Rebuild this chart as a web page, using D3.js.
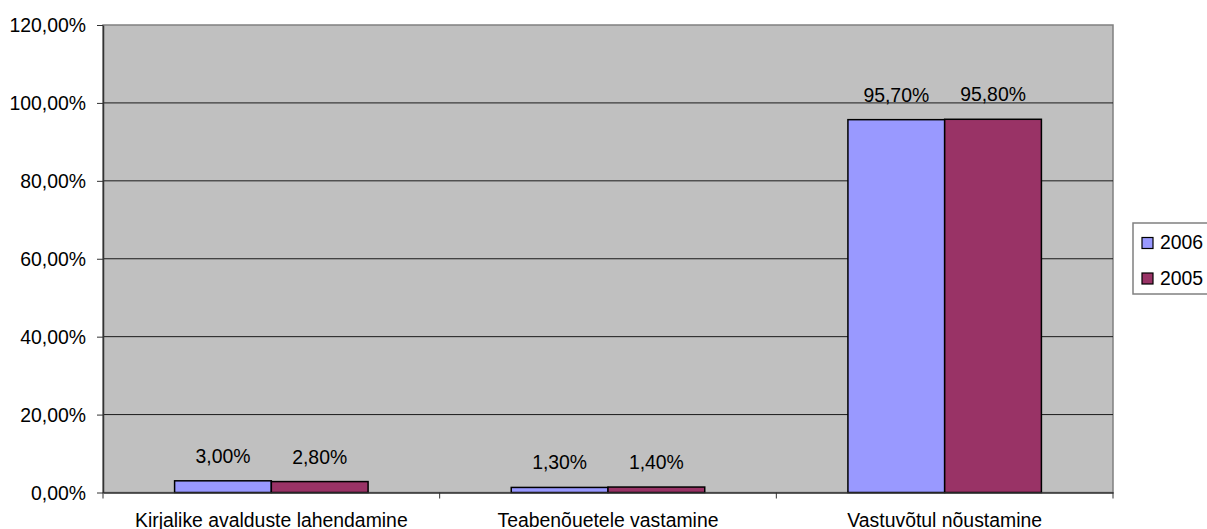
<!DOCTYPE html>
<html><head><meta charset="utf-8">
<script src="https://cdn.jsdelivr.net/npm/d3@7"></script>
<style>body{margin:0;background:#fff}svg{display:block;font-family:"Liberation Sans",Arial,sans-serif}</style>
</head><body><svg id="c" width="1207" height="529"></svg>
<script>
const categories = ["Kirjalike avalduste lahendamine","Teabenõuetele vastamine","Vastuvõtul nõustamine"];
const seriesNames = ["2006","2005"];
const values2006 = [3.0, 1.3, 95.7];
const values2005 = [2.8, 1.4, 95.8];
const yTicks = [0,20,40,60,80,100,120];
const colors = ["#9999FF","#993366"];

const FS = 19.4;
const svg = d3.select("#c");
const L=103, R=1113, T=25, B=492.5;
const x = d3.scaleBand().domain(categories).range([L,R]);
const y = d3.scaleLinear().domain([0,120]).range([B,T]);
const fmt = v => d3.format(".2f")(v).replace(".",",")+"%";

svg.append("rect").attr("x",L).attr("y",T).attr("width",R-L).attr("height",B-T).attr("fill","#C0C0C0").attr("stroke","#808080").attr("stroke-width",1.5);

// gridlines
svg.append("g").selectAll("line").data(yTicks.filter(d=>d>0&&d<120)).join("line")
 .attr("x1",L).attr("x2",R).attr("y1",d=>y(d)).attr("y2",d=>y(d)).attr("stroke","#1a1a1a").attr("stroke-width",1);

const series = [values2006, values2005];
const xs = d3.scaleBand().domain(seriesNames).range([0,x.bandwidth()]).paddingOuter(0.74).paddingInner(0);
const g = svg.append("g");
series.forEach((vals,si)=>{
  g.selectAll(null).data(vals).join("rect")
   .attr("x",(d,i)=>x(categories[i])+xs(seriesNames[si]))
   .attr("y",d=>y(d)).attr("width",xs.bandwidth()).attr("height",d=>B-y(d))
   .attr("fill",colors[si]).attr("stroke","#000").attr("stroke-width",1.5);
  g.selectAll(null).data(vals).join("text")
   .attr("x",(d,i)=>x(categories[i])+xs(seriesNames[si])+xs.bandwidth()/2)
   .attr("y",d=>y(d)-18).attr("text-anchor","middle").attr("font-size",FS).attr("fill","#000")
   .text(d=>fmt(d));
});

// y axis
const ya = svg.append("g").attr("transform",`translate(${L},0)`)
 .call(d3.axisLeft(y).tickValues(yTicks).tickSize(6).tickSizeOuter(0).tickFormat(d=>fmt(d)));
ya.select(".domain").attr("stroke","#333").attr("stroke-width",1.5);
ya.selectAll(".tick line").attr("stroke","#333");
ya.selectAll("text").attr("font-size",FS).attr("font-family","Liberation Sans, Arial, sans-serif").attr("fill","#000").attr("x",-17).attr("dy","0.35em");

// x axis
const xa = svg.append("g").attr("transform",`translate(0,${B})`)
 .call(d3.axisBottom(x).tickSize(0).tickSizeOuter(0));
xa.select(".domain").attr("stroke","#333").attr("stroke-width",1.5);
xa.selectAll("text").attr("font-size",FS).attr("font-family","Liberation Sans, Arial, sans-serif").attr("fill","#000").attr("y",34).attr("dy",0);
svg.append("g").selectAll("line").data([...categories.map(c=>x(c)),R]).join("line")
 .attr("x1",d=>d).attr("x2",d=>d).attr("y1",B).attr("y2",B+6).attr("stroke","#333");

// legend
const lg = svg.append("g");
lg.append("rect").attr("x",1133).attr("y",223).attr("width",80).attr("height",71).attr("fill","#fff").attr("stroke","#808080").attr("stroke-width",1.5);
seriesNames.forEach((s,i)=>{
  lg.append("rect").attr("x",1142).attr("y",237.5+i*35.5).attr("width",11).attr("height",11).attr("fill",colors[i]).attr("stroke","#000").attr("stroke-width",1.2);
  lg.append("text").attr("x",1160).attr("y",249+i*35.5).attr("font-size",FS).attr("fill","#000").text(s);
});
</script></body></html>
